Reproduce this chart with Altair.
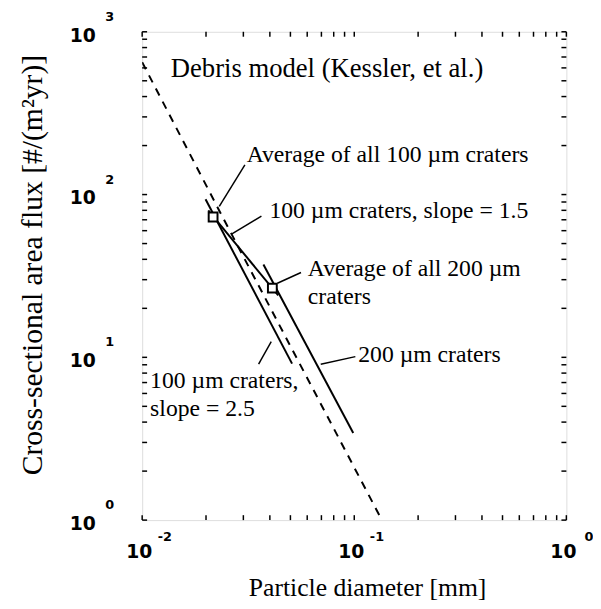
import altair as alt
import pandas as pd

W, H = 430, 495

# ---- data ----
debris_x = [0.01, 0.0246, 0.135]
debris_y = [650, 68, 1.0]

s15_x = [0.0205, 0.0438]          # 100 um craters, slope = 1.5
s15_y = [80, 24.0]
s25_x = [0.0199, 0.0509]          # 100 um craters, slope = 2.5
s25_y = [93.5, 9.15]
c200_x = [0.0373, 0.0989]         # 200 um craters
c200_y = [37.2, 3.43]

avg_x = [0.0216, 0.0411]          # averages of all 100 / 200 um craters
avg_y = [72.8, 26.6]

lead_x = [0.0305, 0.0365, 0.0561, 0.1012, 0.0354]
lead_y = [152, 73.6, 33.2, 10.1, 9.07]
lead_x2 = [0.0231, 0.0265, 0.0434, 0.0695, 0.0406]
lead_y2 = [84.6, 57.3, 28.5, 9.07, 12.5]

note_text = ["Average of all 100 \u00b5m craters",
             "100 \u00b5m craters, slope = 1.5", "Average of all 200 \u00b5m", "craters",
             "200 \u00b5m craters", "100 \u00b5m craters,", "slope = 2.5"]
note_x = [0.0311, 0.0398, 0.0604, 0.0604, 0.1044, 0.0109, 0.0109]
note_y = [175, 78.9, 34.6, 23.4, 10.3, 7.16, 4.84]

model_text = ["Debris model (Kessler, et al.)"]
model_x = [0.01365]
model_y = [588]

xtick_vals = [0.01, 0.1, 1]
xtick_exp = ["-2", "-1", "0"]
ytick_vals = [1, 10, 100, 1000]
ytick_exp = ["0", "1", "2", "3"]

x_minor = [k * 10.0 ** d for d in (-2, -1) for k in range(1, 10)] + [1.0]
y_minor = [k * 10.0 ** d for d in (0, 1, 2) for k in range(1, 10)] + [1000.0]

# ---- tables ----
debris = pd.DataFrame({"x": debris_x, "y": debris_y})
solid = pd.DataFrame({
    "x": s15_x + s25_x + c200_x,
    "y": s15_y + s25_y + c200_y,
    "s": ["s15"] * 2 + ["s25"] * 2 + ["c200"] * 2,
})
avg = pd.DataFrame({"x": avg_x, "y": avg_y})
leads = pd.DataFrame({"x": lead_x, "y": lead_y, "x2": lead_x2, "y2": lead_y2})
notes = pd.DataFrame({"x": note_x, "y": note_y, "t": note_text})
model = pd.DataFrame({"x": model_x, "y": model_y, "t": model_text})
xt = pd.DataFrame({"v": xtick_vals, "e": xtick_exp, "b": ["10"] * 3})
yt = pd.DataFrame({"v": ytick_vals, "e": ytick_exp, "b": ["10"] * 4})
xm = pd.DataFrame({"v": x_minor})
ym = pd.DataFrame({"v": y_minor})

xs = alt.Scale(type="log", domain=[0.01, 1], nice=False)
ys = alt.Scale(type="log", domain=[1, 1000], nice=False)

serif = "Liberation Serif"
tickfont = "DejaVu Sans"

X = alt.X("x:Q", scale=xs,
          axis=alt.Axis(title="Particle diameter [mm]", labels=False, ticks=False,
                        domain=False, grid=False, titleFont=serif, titleFontSize=26,
                        titleFontWeight="normal", titleColor="black", titlePadding=55,
                        titleX=228))
Y = alt.Y("y:Q", scale=ys,
          axis=alt.Axis(title="Cross-sectional area flux [#/(m\u00b2yr)]", labels=False,
                        ticks=False, domain=False, grid=False, titleFont=serif,
                        titleFontSize=30, titleFontWeight="normal", titleColor="black",
                        titlePadding=96, titleY=236))

base_line = alt.Chart(debris).mark_line(color="black", strokeWidth=2, strokeDash=[8, 7],
                                        clip=True).encode(x=X, y=Y)

solid_lines = alt.Chart(solid).mark_line(color="black", strokeWidth=2).encode(
    x=alt.X("x:Q", scale=xs), y=alt.Y("y:Q", scale=ys), detail="s:N")

lead_rules = alt.Chart(leads).mark_rule(color="black", strokeWidth=1.5).encode(
    x=alt.X("x:Q", scale=xs), y=alt.Y("y:Q", scale=ys), x2="x2:Q", y2="y2:Q")

markers = alt.Chart(avg).mark_point(shape="square", size=80, filled=True, fill="white",
                                    stroke="black", strokeWidth=2, opacity=1).encode(
    x=alt.X("x:Q", scale=xs), y=alt.Y("y:Q", scale=ys))

texts = alt.Chart(notes).mark_text(align="left", baseline="middle", font=serif,
                                   fontSize=24, color="black").encode(
    x=alt.X("x:Q", scale=xs), y=alt.Y("y:Q", scale=ys), text="t:N")
model_txt = alt.Chart(model).mark_text(align="left", baseline="middle", font=serif,
                                       fontSize=27, color="black").encode(
    x=alt.X("x:Q", scale=xs), y=alt.Y("y:Q", scale=ys), text="t:N")

# tick labels  (10 with raised exponent)
xlab_b = alt.Chart(xt).mark_text(align="center", baseline="middle", font=tickfont,
                                 fontSize=19, fontWeight="bold", dx=-3, dy=32,
                                 color="black").encode(
    x=alt.X("v:Q", scale=xs), y=alt.datum(1, scale=ys), text="b:N")
xlab_e = alt.Chart(xt).mark_text(align="center", baseline="middle", font=tickfont,
                                 fontSize=13, fontWeight="bold", dx=23, dy=17,
                                 color="black").encode(
    x=alt.X("v:Q", scale=xs), y=alt.datum(1, scale=ys), text="e:N")
ylab_b = alt.Chart(yt).mark_text(align="right", baseline="middle", font=tickfont,
                                 fontSize=19, fontWeight="bold", dx=-47, dy=4,
                                 color="black").encode(
    x=alt.datum(0.01, scale=xs), y=alt.Y("v:Q", scale=ys), text="b:N")
ylab_e = alt.Chart(yt).mark_text(align="center", baseline="middle", font=tickfont,
                                 fontSize=13, fontWeight="bold", dx=-33, dy=-15,
                                 color="black").encode(
    x=alt.datum(0.01, scale=xs), y=alt.Y("v:Q", scale=ys), text="e:N")

# inward ticks on all four sides
bot = alt.Chart(xm).mark_rule(color="black", strokeWidth=1.5).encode(
    x=alt.X("v:Q", scale=xs), y=alt.value(H), y2=alt.value(H - 5))
top = alt.Chart(xm).mark_rule(color="black", strokeWidth=1.5).encode(
    x=alt.X("v:Q", scale=xs), y=alt.value(0), y2=alt.value(5))
lef = alt.Chart(ym).mark_rule(color="black", strokeWidth=1.5).encode(
    y=alt.Y("v:Q", scale=ys), x=alt.value(0), x2=alt.value(5))
rig = alt.Chart(ym).mark_rule(color="black", strokeWidth=1.5).encode(
    y=alt.Y("v:Q", scale=ys), x=alt.value(W), x2=alt.value(W - 5))

chart = alt.layer(
    base_line, solid_lines, lead_rules, markers, texts, model_txt,
    xlab_b, xlab_e, ylab_b, ylab_e, bot, top, lef, rig,
).properties(
    width=W, height=H,
    padding={"left": 136, "top": 20, "right": 27, "bottom": 86},
    autosize=alt.AutoSizeParams(type="none"),
).configure_view(
    stroke="black", strokeWidth=2
).configure(background="white")

chart.save("out.html", embed_options={"renderer": "svg", "actions": False})
